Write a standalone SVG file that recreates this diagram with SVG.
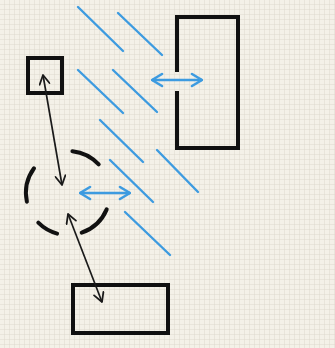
<svg xmlns="http://www.w3.org/2000/svg" width="335" height="348" viewBox="0 0 335 348">
  <defs>
    <pattern id="grid" width="5" height="5" patternUnits="userSpaceOnUse">
      <rect width="5" height="5" fill="#f4f1e8"/>
      <path d="M5 0V5M0 5H5" fill="none" stroke="#dbd6cb" stroke-width="0.9"/>
    </pattern>
    <marker id="blk" viewBox="0 0 12 12" refX="11" refY="6" markerWidth="12" markerHeight="12" markerUnits="userSpaceOnUse" orient="auto-start-reverse">
      <path d="M2 1L11 6L2 11" fill="none" stroke="#1a1a1a" stroke-width="1.8" stroke-linecap="round" stroke-linejoin="round"/>
    </marker>
    <marker id="blu" viewBox="0 0 14 16" refX="13" refY="8" markerWidth="14" markerHeight="16" markerUnits="userSpaceOnUse" orient="auto-start-reverse">
      <path d="M3 2L13 8L3 14" fill="none" stroke="#3d9be0" stroke-width="2.6" stroke-linecap="round" stroke-linejoin="round"/>
    </marker>
    <style>
      .shape { fill: none; stroke: #111; stroke-width: 4; stroke-linecap: square; }
      .dash { fill: none; stroke: #111; stroke-width: 4; stroke-linecap: round; }
      .ray { stroke: #3d9be0; stroke-width: 2.4; stroke-linecap: round; }
      .barr { stroke: #1a1a1a; stroke-width: 1.7; fill: none; marker-start: url(#blk); marker-end: url(#blk); }
      .uarr { stroke: #3d9be0; stroke-width: 2.6; fill: none; marker-start: url(#blu); marker-end: url(#blu); }
    </style>
  </defs>
  <rect width="335" height="348" fill="url(#grid)"/>

  <g id="rays">
    <line class="ray" x1="78" y1="7" x2="123" y2="51"/>
    <line class="ray" x1="118" y1="13" x2="162" y2="55"/>
    <line class="ray" x1="78" y1="70" x2="123" y2="113"/>
    <line class="ray" x1="113" y1="70" x2="157" y2="112"/>
    <line class="ray" x1="100" y1="120" x2="143" y2="162"/>
    <line class="ray" x1="157" y1="150" x2="198" y2="192"/>
    <line class="ray" x1="110" y1="160" x2="153" y2="202"/>
    <line class="ray" x1="125" y1="212" x2="170" y2="255"/>
  </g>

  <g id="small-square">
    <rect class="shape" x="28" y="58" width="34" height="35"/>
  </g>

  <g id="tall-rect">
    <path class="shape" d="M177 70V17H238V148H177V93"/>
  </g>

  <g id="dashed-circle">
    <path class="dash" d="M72.4 151.2A42 42 0 0 1 98.7 164.4"/>
    <path class="dash" d="M106.7 209.4A42 42 0 0 1 81.7 232.7"/>
    <path class="dash" d="M57.1 233.6A42 42 0 0 1 38.3 222.7"/>
    <path class="dash" d="M26.9 201.7A42 42 0 0 1 34.0 168.3"/>
  </g>

  <g id="bottom-rect">
    <rect class="shape" x="73" y="285" width="95" height="48"/>
  </g>

  <g id="connectors">
    <line class="barr" x1="43" y1="75" x2="62" y2="185"/>
    <line class="barr" x1="68" y1="214" x2="102" y2="302"/>
    <line class="uarr" x1="152" y1="80" x2="202" y2="80"/>
    <line class="uarr" x1="80" y1="193" x2="130" y2="193"/>
  </g>
</svg>
